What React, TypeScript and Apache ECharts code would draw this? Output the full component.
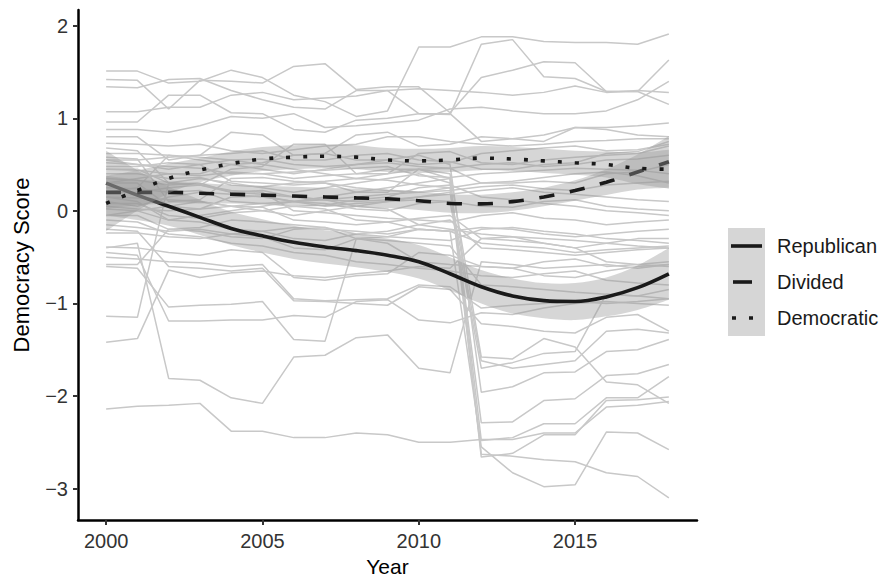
import React, { useEffect, useRef } from "react";
import * as echarts from "echarts";

const years = [2000, 2001, 2002, 2003, 2004, 2005, 2006, 2007, 2008, 2009, 2010, 2011, 2012, 2013, 2014, 2015, 2016, 2017, 2018];

const stateLines: number[][] = [
  [1.51, 1.51, 1.38, 1.40, 1.52, 1.44, 1.25, 1.18, 1.02, 1.08, 1.77, 1.77, 1.88, 1.88, 1.83, 1.82, 1.82, 1.80, 1.91],
  [1.42, 1.41, 1.10, 1.41, 1.40, 1.38, 1.56, 1.59, 1.31, 1.34, 1.34, 1.06, 1.44, 1.52, 1.61, 1.60, 1.29, 1.29, 1.63],
  [1.34, 1.33, 1.42, 1.43, 1.30, 1.20, 1.12, 1.10, 1.30, 1.30, 1.05, 1.04, 1.80, 1.85, 1.45, 1.43, 1.29, 1.29, 1.15],
  [1.07, 1.07, 1.12, 1.12, 1.25, 1.28, 1.20, 1.22, 1.24, 1.30, 1.32, 1.30, 1.28, 1.25, 1.28, 1.35, 1.28, 1.30, 1.28],
  [0.96, 0.96, 1.25, 1.25, 1.06, 1.05, 0.88, 0.85, 0.98, 1.00, 1.05, 1.05, 0.75, 0.78, 0.82, 0.90, 0.90, 0.92, 0.95],
  [0.88, 0.88, 0.85, 0.92, 1.02, 1.00, 1.05, 0.90, 0.92, 0.95, 0.98, 1.10, 1.12, 1.08, 1.05, 1.05, 1.08, 1.20, 1.40],
  [0.80, 0.80, 0.55, 0.60, 0.85, 0.82, 0.60, 0.62, 0.82, 0.85, 0.70, 0.72, 0.80, 0.78, 0.75, 0.90, 0.88, 0.82, 0.80],
  [0.73, 0.72, 0.70, 0.72, 0.65, 0.62, 0.66, 0.70, 0.72, 0.80, 0.80, 0.75, 0.72, 0.70, 0.72, 0.75, 0.76, 0.78, 0.78],
  [0.68, 0.65, 0.30, 0.28, 0.45, 0.48, 0.72, 0.72, 0.40, 0.40, 0.62, 0.64, 0.52, 0.50, 0.55, 0.58, 0.60, 0.62, 0.70],
  [0.62, 0.62, 0.60, 0.58, 0.55, 0.56, 0.50, 0.48, 0.50, 0.52, 0.48, 0.46, 0.50, 0.52, 0.48, 0.50, 0.55, 0.56, 0.60],
  [0.58, 0.56, 0.10, 0.12, 0.35, 0.36, 0.32, 0.30, 0.20, 0.20, 0.45, 0.46, 0.30, 0.30, 0.32, 0.30, 0.40, 0.42, 0.50],
  [0.52, 0.50, 0.48, 0.46, 0.40, 0.40, 0.42, 0.44, 0.46, 0.48, 0.38, 0.36, 0.40, 0.42, 0.44, 0.46, 0.45, 0.44, 0.40],
  [0.48, 0.48, 0.52, 0.50, 0.32, 0.30, 0.28, 0.30, 0.25, 0.22, 0.20, 0.22, 0.26, 0.28, 0.24, 0.22, 0.28, 0.30, 0.32],
  [0.40, 0.40, 0.35, 0.36, 0.28, 0.26, 0.30, 0.32, 0.35, 0.33, 0.28, 0.25, 0.30, 0.32, 0.36, 0.40, 0.42, 0.38, 0.30],
  [0.35, 0.33, 0.28, 0.30, 0.20, 0.18, 0.15, 0.12, 0.10, 0.12, 0.15, 0.18, 0.22, 0.25, 0.20, 0.18, 0.15, 0.12, 0.10],
  [0.30, 0.30, 0.05, 0.02, 0.15, 0.16, 0.10, 0.08, 0.02, 0.00, 0.08, 0.10, 0.05, 0.04, 0.10, 0.12, 0.05, 0.02, 0.00],
  [0.25, 0.24, 0.20, 0.22, 0.10, 0.08, 0.05, 0.06, 0.12, 0.15, 0.25, 0.28, 0.15, 0.12, 0.08, 0.05, 0.00, -0.02, -0.05],
  [0.20, 0.20, 0.25, 0.28, 0.22, 0.20, 0.00, -0.02, -0.05, -0.08, -0.10, -0.12, -0.05, -0.02, -0.08, -0.10, -0.15, -0.12, -0.10],
  [0.15, 0.14, 0.12, 0.10, 0.05, 0.04, -0.10, -0.12, -0.15, -0.12, -0.20, -0.22, -0.18, -0.20, -0.25, -0.28, -0.25, -0.22, -0.20],
  [0.08, 0.08, -0.05, -0.08, -0.02, 0.00, 0.05, 0.02, -0.10, -0.12, -0.08, -0.05, -0.30, -0.32, -0.35, -0.40, -0.35, -0.30, -0.30],
  [0.02, 0.00, -0.10, -0.12, -0.20, -0.22, -0.30, -0.32, -0.25, -0.22, -0.15, -0.10, -0.40, -0.42, -0.45, -0.48, -0.45, -0.42, -0.40],
  [-0.05, -0.05, -0.20, -0.22, -0.28, -0.30, -0.20, -0.18, -0.30, -0.35, -0.55, -0.58, -0.60, -0.62, -0.55, -0.52, -0.60, -0.58, -0.55],
  [-0.10, -0.12, -0.25, -0.28, -0.35, -0.38, -0.45, -0.48, -0.55, -0.58, -0.62, -0.65, -0.70, -0.72, -0.68, -0.65, -0.75, -0.78, -0.80],
  [-0.24, -0.24, -0.28, -0.30, -0.25, -0.28, -0.40, -0.42, -0.30, -0.32, -0.35, -0.38, -0.80, -0.82, -0.85, -0.88, -0.90, -0.92, -0.95],
  [-0.39, -0.40, -0.45, -0.48, -0.42, -0.45, -0.72, -0.75, -0.70, -0.68, -0.45, -0.48, -0.60, -0.62, -0.70, -0.72, -0.65, -0.60, -0.58],
  [-0.50, -0.52, -0.55, -0.56, -0.60, -0.58, -0.95, -0.97, -0.96, -0.95, -0.80, -0.82, -1.05, -1.02, -1.00, -0.98, -1.00, -0.98, -0.95],
  [-0.58, -0.58, -0.20, -0.18, -0.10, -0.12, -0.15, -0.18, -0.25, -0.28, -0.30, -0.32, -0.20, -0.18, -0.22, -0.25, -0.30, -0.32, -0.35],
  [0.45, 0.44, 0.40, 0.40, 0.50, 0.52, 0.60, 0.62, 0.55, 0.55, 0.50, 0.52, 0.62, 0.65, 0.68, 0.70, 0.65, 0.66, 0.72],
  [0.55, 0.55, 0.58, 0.60, 0.62, 0.65, 0.55, 0.55, 0.60, 0.62, 0.55, 0.53, 0.45, 0.45, 0.50, 0.52, 0.62, 0.64, 0.75],
  [-1.14, -1.15, 0.30, 0.28, 0.20, 0.22, 0.15, 0.12, 0.05, 0.02, -0.15, -0.20, -0.25, -0.28, -0.30, -0.32, -0.35, -0.38, -0.40],
  [-1.42, -1.38, -0.64, -0.72, -0.67, -0.65, -0.70, -0.72, -0.68, -0.65, -0.60, -0.62, -0.30, -0.28, -0.35, -0.40, -0.55, -0.58, -0.60],
  [-0.40, -0.35, -1.81, -1.83, -2.02, -2.08, -1.58, -1.56, -1.37, -1.34, -1.70, -1.75, -0.55, -0.58, -0.62, -0.60, -0.58, -0.62, -0.58],
  [-0.60, -0.62, -1.04, -1.02, -1.01, -0.98, -1.39, -1.41, -0.30, -0.28, -0.20, -0.22, -0.35, -0.38, -0.40, -0.45, -0.42, -0.40, -0.38],
  [-0.45, -0.48, -1.19, -1.19, -1.18, -1.18, -1.13, -1.15, -0.98, -0.96, -1.18, -1.21, -1.10, -1.12, -1.05, -1.00, -0.98, -1.00, -1.02],
  [-0.20, -0.22, -0.60, -0.62, -0.65, -0.62, -0.97, -0.98, -1.00, -1.02, -0.82, -0.85, -1.22, -1.25, -1.30, -1.32, -1.15, -1.12, -1.30],
  [-2.14, -2.11, -2.10, -2.08, -2.38, -2.38, -2.45, -2.45, -2.40, -2.42, -2.50, -2.50, -2.47, -2.47, -2.40, -2.40, -2.12, -2.10, -2.06],
  [0.30, 0.35, 0.40, 0.38, 0.42, 0.40, 0.35, 0.38, 0.40, 0.45, 0.45, 0.40, -1.58, -1.60, -1.38, -1.47, -1.85, -1.88, -2.08],
  [0.10, 0.05, 0.15, 0.20, 0.18, 0.15, 0.10, 0.05, 0.08, 0.10, 0.12, 0.10, -1.70, -1.64, -1.54, -1.52, -0.90, -0.92, -0.85],
  [-0.05, 0.00, 0.05, 0.10, 0.05, 0.00, -0.05, 0.00, 0.05, 0.10, 0.15, 0.20, -1.62, -1.70, -1.66, -1.62, -1.30, -1.28, -1.32],
  [0.20, 0.25, 0.60, 0.55, 0.50, 0.45, 0.40, 0.45, 0.50, 0.55, 0.60, 0.50, -1.96, -1.90, -1.75, -1.74, -1.52, -1.50, -1.39],
  [0.45, 0.45, 0.30, 0.35, 0.30, 0.25, 0.20, 0.25, 0.30, 0.35, 0.40, 0.30, -2.29, -2.28, -2.05, -2.03, -1.78, -1.76, -1.66],
  [0.15, 0.10, -0.10, -0.05, 0.00, 0.05, 0.10, 0.15, 0.20, 0.25, 0.30, 0.35, -2.48, -2.45, -2.30, -2.30, -2.02, -2.02, -1.79],
  [0.55, 0.50, 0.45, 0.50, 0.55, 0.50, 0.45, 0.40, 0.35, 0.40, 0.45, 0.35, -2.66, -2.62, -2.42, -2.42, -2.05, -2.04, -2.01],
  [-0.15, -0.18, -0.22, -0.20, -0.25, -0.22, -0.18, -0.20, -0.22, -0.25, -0.20, -0.22, -2.55, -2.83, -2.98, -2.96, -2.39, -2.40, -2.58],
  [0.05, 0.02, 0.00, 0.02, 0.05, 0.08, 0.10, 0.12, 0.15, 0.18, 0.20, 0.25, -2.63, -2.65, -2.69, -2.71, -2.83, -2.87, -3.10],
];

const repFit = [0.30, 0.17, 0.05, -0.07, -0.19, -0.27, -0.34, -0.39, -0.43, -0.48, -0.55, -0.68, -0.82, -0.92, -0.97, -0.98, -0.93, -0.83, -0.68];
const repSe = [0.35, 0.27, 0.21, 0.19, 0.18, 0.18, 0.18, 0.18, 0.18, 0.18, 0.18, 0.18, 0.18, 0.19, 0.19, 0.20, 0.21, 0.24, 0.28];
const divFit = [0.20, 0.20, 0.20, 0.19, 0.18, 0.17, 0.16, 0.15, 0.14, 0.13, 0.11, 0.08, 0.075, 0.10, 0.15, 0.22, 0.31, 0.42, 0.53];
const divSe = [0.18, 0.14, 0.12, 0.11, 0.10, 0.10, 0.10, 0.10, 0.10, 0.10, 0.10, 0.10, 0.10, 0.10, 0.10, 0.11, 0.14, 0.19, 0.28];
const demFit = [0.08, 0.22, 0.35, 0.44, 0.51, 0.56, 0.58, 0.59, 0.58, 0.55, 0.54, 0.55, 0.57, 0.56, 0.54, 0.52, 0.50, 0.46, 0.45];
const demSe = [0.30, 0.22, 0.16, 0.13, 0.13, 0.13, 0.13, 0.13, 0.13, 0.13, 0.13, 0.13, 0.13, 0.13, 0.13, 0.13, 0.14, 0.17, 0.21];

const groupNames = ["Republican", "Divided", "Democratic"];
const xTicks = [2000, 2005, 2010, 2015];
const yTicks = [-3, -2, -1, 0, 1, 2];

const FONT = "Liberation Sans, Arial, Helvetica, sans-serif";

// Catmull-Rom spline through pixel points, as SVG cubic segments (no moveTo)
function splineSegments(pts: number[][]): string {
  let d = "";
  const n = pts.length;
  for (let i = 0; i < n - 1; i++) {
    const p0 = pts[Math.max(0, i - 1)];
    const p1 = pts[i];
    const p2 = pts[i + 1];
    const p3 = pts[Math.min(n - 1, i + 2)];
    const c1x = p1[0] + (p2[0] - p0[0]) / 6;
    const c1y = p1[1] + (p2[1] - p0[1]) / 6;
    const c2x = p2[0] - (p3[0] - p1[0]) / 6;
    const c2y = p2[1] - (p3[1] - p1[1]) / 6;
    d += ` C${c1x},${c1y} ${c2x},${c2y} ${p2[0]},${p2[1]}`;
  }
  return d;
}

export default function App() {
  const ref = useRef<HTMLDivElement>(null);

  useEffect(() => {
    if (!ref.current) return;
    const chart = echarts.init(ref.current, null, { renderer: "svg" });
    const pair = (vals: number[]) => vals.map((v, i) => [years[i], v]);

    const series: any[] = [];
    stateLines.forEach((vals, k) => {
      series.push({
        type: "line",
        name: "state" + k,
        data: pair(vals),
        symbol: "none",
        silent: true,
        z: 1,
        lineStyle: { color: "#c8c8c8", width: 1.5 },
      });
    });

    const fits = [
      { name: groupNames[0], fit: repFit, se: repSe, dash: "solid" as any },
      { name: groupNames[1], fit: divFit, se: divSe, dash: [15, 16] as any },
      { name: groupNames[2], fit: demFit, se: demSe, dash: [4, 13] as any },
    ];
    fits.forEach((f, idx) => {
      const upper = f.fit.map((v, i) => v + f.se[i]);
      const lower = f.fit.map((v, i) => v - f.se[i]);
      series.push({
        type: "custom",
        name: f.name + " band",
        silent: true,
        z: 2 + idx * 2,
        data: [[years[0], f.fit[0]]],
        encode: { x: 0, y: 1 },
        renderItem: (params: any, api: any) => {
          const up = upper.map((v, i) => api.coord([years[i], v]));
          const lo = lower.map((v, i) => api.coord([years[i], v])).reverse();
          const d =
            `M${up[0][0]},${up[0][1]}` +
            splineSegments(up) +
            ` L${lo[0][0]},${lo[0][1]}` +
            splineSegments(lo) +
            " Z";
          return {
            type: "path",
            shape: { pathData: d },
            style: { fill: "rgba(153,153,153,0.4)", stroke: "none" },
          };
        },
      });
      series.push({
        type: "line",
        name: f.name,
        data: pair(f.fit),
        symbol: "none",
        smooth: 0.35,
        silent: true,
        z: 3 + idx * 2,
        lineStyle: { color: "#1a1a1a", width: 3.6, type: f.dash, cap: "butt" },
      });
    });

    const legendY = [246, 282, 318];

    chart.setOption({
      animation: false,
      textStyle: { fontFamily: FONT },
      grid: { left: 78, top: 10, width: 619, height: 510, containLabel: false, outerBoundsMode: "none" },
      xAxis: {
        type: "value",
        min: 1999.1,
        max: 2018.9,
        name: "Year",
        nameLocation: "middle",
        nameGap: 35,
        nameTextStyle: { fontSize: 21, lineHeight: 20, color: "#000", fontFamily: FONT },
        axisLine: { show: true, onZero: false, lineStyle: { color: "#000", width: 2.5 } },
        axisTick: { show: true, customValues: xTicks, length: 5, lineStyle: { color: "#333", width: 2 } },
        axisLabel: { customValues: xTicks, margin: 11, fontSize: 20, color: "#333", fontFamily: FONT, formatter: (v: number) => String(v) },
        splitLine: { show: false },
      },
      yAxis: {
        type: "value",
        min: -3.34,
        max: 2.17,
        name: "Democracy Score",
        nameLocation: "middle",
        nameGap: 46,
        nameTextStyle: { fontSize: 22, color: "#000", fontFamily: FONT },
        axisLine: { show: true, onZero: false, lineStyle: { color: "#000", width: 2.5 } },
        axisTick: { show: true, customValues: yTicks, length: 5, lineStyle: { color: "#333", width: 2 } },
        axisLabel: {
          customValues: yTicks,
          margin: 10,
          fontSize: 20,
          color: "#333",
          fontFamily: FONT,
          formatter: (v: number) => String(v).replace("-", "\u2212"),
        },
        splitLine: { show: false },
      },
      graphic: [
        { type: "rect", shape: { x: 728, y: 228, width: 37, height: 108 }, style: { fill: "#d6d6d6" }, silent: true },
        { type: "line", shape: { x1: 731, y1: legendY[0], x2: 762, y2: legendY[0] }, style: { stroke: "#1a1a1a", lineWidth: 3.6 }, silent: true },
        { type: "line", shape: { x1: 733, y1: legendY[1], x2: 752, y2: legendY[1] }, style: { stroke: "#1a1a1a", lineWidth: 3.6 }, silent: true },
        { type: "line", shape: { x1: 732, y1: legendY[2], x2: 762, y2: legendY[2] }, style: { stroke: "#1a1a1a", lineWidth: 3.6, lineDash: [4, 13] }, silent: true },
        ...groupNames.map((n, i) => ({
          type: "text",
          x: 777,
          y: legendY[i],
          style: { text: n, font: `20px ${FONT}`, fill: "#1a1a1a", textVerticalAlign: "middle", verticalAlign: "middle" },
          silent: true,
        })),
      ],
      series,
    });

    return () => chart.dispose();
  }, []);

  return <div ref={ref} style={{ position: "absolute", left: 0, top: 0, width: 884, height: 577 }} />;
}
